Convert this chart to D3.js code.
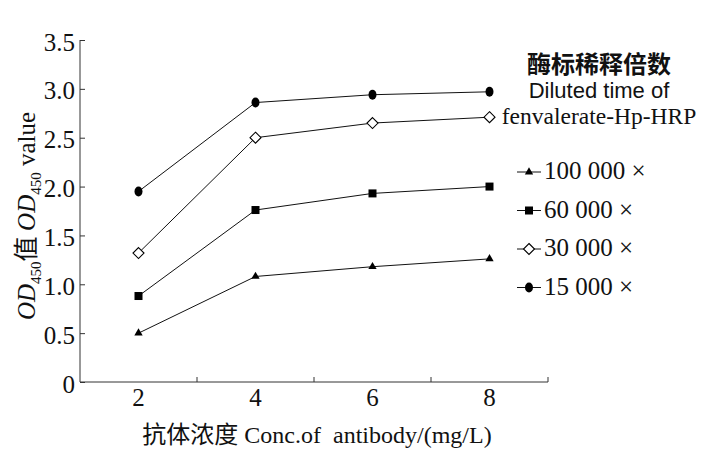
<!DOCTYPE html>
<html>
<head>
<meta charset="utf-8">
<script src="https://cdn.jsdelivr.net/npm/d3@7"></script>
<style>
  body { margin: 0; background: #fff; }
  text { fill: #111; }
  .tick-label { font-family: "Liberation Serif", "Times New Roman", serif; font-size: 25px; }
</style>
</head>
<body>
<div id="chart"></div>
<script>
// data
var concs = ["2", "4", "6", "8"];
var dil100k = [0.50, 1.08, 1.18, 1.26];
var dil60k = [0.88, 1.76, 1.93, 2.00];
var dil30k = [1.32, 2.50, 2.65, 2.71];
var dil15k = [1.95, 2.86, 2.94, 2.97];
var yTicks = [0, 0.5, 1.0, 1.5, 2.0, 2.5, 3.0, 3.5];
var seriesNames = ["100 000 \u00d7", "60 000 \u00d7", "30 000 \u00d7", "15 000 \u00d7"];

var w = 714, h = 461;
var svg = d3.select("#chart").append("svg")
    .attr("width", w)
    .attr("height", h);

// scales
var x = d3.scaleBand().domain(concs).range([80, 548]).padding(0);
var y = d3.scaleLinear().domain([0, 3.5]).range([382, 40]);

// y axis, ticks pointing inside
var yAxis = svg.append("g")
    .attr("transform", "translate(80,0)")
    .call(d3.axisRight(y).tickValues(yTicks).tickSize(5)
        .tickFormat(function(d){ return d === 0 ? "0" : d3.format(".1f")(d); }));
yAxis.select(".domain").attr("d", "M0," + y(3.5) + "V" + y(0)).attr("stroke", "#333");
yAxis.selectAll(".tick line").attr("stroke", "#333");
yAxis.selectAll(".tick text")
    .attr("class", "tick-label")
    .attr("x", -5)
    .attr("dy", "0.4em")
    .attr("text-anchor", "end");

// x axis, ticks at band edges pointing up
var xAxis = svg.append("g").attr("transform", "translate(0," + y(0) + ")");
xAxis.append("line")
    .attr("x1", 80).attr("x2", 548)
    .attr("stroke", "#333");
xAxis.selectAll(".xt")
    .data(concs)
    .enter()
    .append("line")
    .attr("x1", function(d){ return x(d) + x.bandwidth(); })
    .attr("x2", function(d){ return x(d) + x.bandwidth(); })
    .attr("y1", 0).attr("y2", -5)
    .attr("stroke", "#333");
xAxis.selectAll(".xl")
    .data(concs)
    .enter()
    .append("text")
    .attr("class", "tick-label")
    .attr("x", function(d){ return x(d) + x.bandwidth()/2; })
    .attr("y", 24)
    .attr("text-anchor", "middle")
    .text(function(d){ return d; });

// markers
function drawMarker(g, type, cx, cy) {
    if (type === "triangle") {
        g.append("path")
            .attr("d", d3.symbol().type(d3.symbolTriangle).size(30)())
            .attr("transform", "translate(" + cx + "," + cy + ")")
            .attr("fill", "#000");
    } else if (type === "square") {
        g.append("rect")
            .attr("x", cx - 4).attr("y", cy - 4)
            .attr("width", 8).attr("height", 8)
            .attr("fill", "#000");
    } else if (type === "diamond") {
        g.append("path")
            .attr("d", "M0,-5.5L5.5,0L0,5.5L-5.5,0Z")
            .attr("transform", "translate(" + cx + "," + cy + ")")
            .attr("fill", "#fff").attr("stroke", "#000").attr("stroke-width", 1.1);
    } else {
        g.append("ellipse")
            .attr("cx", cx).attr("cy", cy)
            .attr("rx", 4).attr("ry", 5)
            .attr("fill", "#000");
    }
}

var series = [
    { name: seriesNames[0], values: dil100k, marker: "triangle" },
    { name: seriesNames[1], values: dil60k, marker: "square" },
    { name: seriesNames[2], values: dil30k, marker: "diamond" },
    { name: seriesNames[3], values: dil15k, marker: "circle" }
];

var line = d3.line()
    .x(function(d, i){ return x(concs[i]) + x.bandwidth()/2; })
    .y(function(d){ return y(d); });

series.forEach(function(s){
    var g = svg.append("g");
    g.append("path")
        .datum(s.values)
        .attr("d", line)
        .attr("fill", "none")
        .attr("stroke", "#111")
        .attr("stroke-width", 1);
    s.values.forEach(function(v, i){
        drawMarker(g, s.marker, x(concs[i]) + x.bandwidth()/2, y(v));
    });
});

// legend
var legend = svg.append("g");
legend.append("text")
    .attr("x", 599).attr("y", 73)
    .attr("text-anchor", "middle")
    .style("font-family", "'Noto Sans CJK SC', sans-serif")
    .style("font-size", "24px")
    .style("font-weight", "bold")
    .text("酶标稀释倍数");
legend.append("text")
    .attr("x", 599).attr("y", 98)
    .attr("text-anchor", "middle")
    .style("font-family", "'Liberation Sans', Arial, sans-serif")
    .style("font-size", "22px")
    .text("Diluted time of");
legend.append("text")
    .attr("x", 599).attr("y", 124)
    .attr("text-anchor", "middle")
    .style("font-family", "'Liberation Serif', 'Times New Roman', serif")
    .style("font-size", "23.5px")
    .text("fenvalerate-Hp-HRP");

series.forEach(function(s, i){
    var ly = 172 + i * 38.5;
    legend.append("line")
        .attr("x1", 517).attr("x2", 541)
        .attr("y1", ly).attr("y2", ly)
        .attr("stroke", "#111");
    drawMarker(legend, s.marker, 529, ly);
    legend.append("text")
        .attr("x", 544).attr("y", ly + 7)
        .style("font-family", "'Liberation Serif', 'Times New Roman', serif")
        .style("font-size", "25px")
        .text(s.name);
});

// axis titles
var xt = svg.append("text")
    .attr("x", 317).attr("y", 443)
    .attr("text-anchor", "middle")
    .style("font-family", "'Liberation Serif', 'Times New Roman', serif")
    .style("font-size", "24px");
xt.append("tspan").style("font-family", "'Noto Sans CJK SC', sans-serif").text("抗体浓度");
xt.append("tspan").text(" Conc.of \u00a0antibody/(mg/L)");

var yt = svg.append("text")
    .attr("transform", "translate(35,216) rotate(-90)")
    .attr("text-anchor", "middle")
    .style("font-family", "'Liberation Serif', 'Times New Roman', serif")
    .style("font-size", "25px");
yt.append("tspan").style("font-style", "italic").text("OD");
yt.append("tspan").attr("dy", 6).style("font-size", "15px").text("450");
yt.append("tspan").attr("dy", -6).style("font-family", "'Noto Sans CJK SC', sans-serif").text("值 ");
yt.append("tspan").style("font-style", "italic").text("OD");
yt.append("tspan").attr("dy", 6).style("font-size", "15px").text("450");
yt.append("tspan").attr("dy", -6).text(" value");
</script>
</body>
</html>
